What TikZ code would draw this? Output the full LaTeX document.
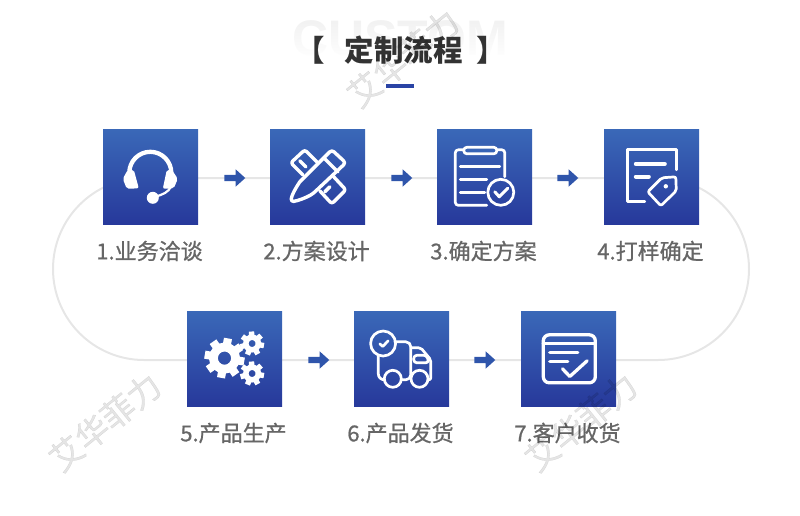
\documentclass[tikz,border=0pt]{standalone}
\usepackage{fontspec}
\setmainfont{Noto Sans CJK SC}
\newfontfamily\ghostfont{Liberation Sans}
\newfontfamily\midfont[FakeBold=0.8]{Noto Sans CJK SC}
\usetikzlibrary{shapes.arrows,fadings}
\definecolor{boxtop}{HTML}{3A68B8}
\definecolor{boxbottom}{HTML}{27399B}
\definecolor{barblue}{HTML}{2A44A5}
\definecolor{arrowblue}{HTML}{2F55AB}
\definecolor{trackgray}{HTML}{E6E6E6}
\definecolor{labelgray}{HTML}{666666}
\definecolor{titlegray}{HTML}{333333}
\tikzset{
  stepbox/.style={minimum size=95pt,inner sep=0pt,top color=boxtop,bottom color=boxbottom},
  steplabel/.style={text=labelgray,font=\midfont\fontsize{22}{22}\selectfont,inner sep=0pt},
  trackline/.style={draw=trackgray,line width=2pt},
  steparrow/.style={single arrow,fill=arrowblue,minimum width=17pt,minimum height=21pt,inner sep=3pt,
    single arrow head extend=5.5pt,single arrow tip angle=84},
  icon/.style={draw=white,line width=3pt,line cap=round,line join=round},
  stamp/.style={text=black,opacity=0.1,rotate=39,font=\midfont\fontsize{33}{33}\selectfont,inner sep=0pt}
}
\newcommand{\gearicon}[6]{% x, y, body radius, tooth radius, hole radius, teeth
  \draw[white,line width={#3pt-#5pt}] (#1,#2) circle ({(#3+#5)/2});
  \foreach \t in {1,...,#6} {
    \draw[white,line width={1.35*#3pt*3.1/#6}] ({#1+(#3-1)*cos(\t*360/#6+10)},{#2+(#3-1)*sin(\t*360/#6+10)}) -- ({#1+#4*cos(\t*360/#6+10)},{#2+#4*sin(\t*360/#6+10)});
  }
}
\begin{document}
\begin{tikzpicture}[x=1pt,y=-1pt]
\useasboundingbox (0,0) rectangle (800,515);

% title
\node[text=black!6,font=\ghostfont\bfseries\fontsize{50}{50}\selectfont,inner sep=0pt] (ghost) at (400,38) {CUSTOM};
\fill[white,path fading=north] (285,14) rectangle (515,60);
\node[text=titlegray,font=\bfseries\fontsize{29.5}{29.5}\selectfont,inner sep=0pt] (title) at (401,50) {【\hspace{20pt}定制流程\hspace{14pt}】};
\fill[barblue] (386,84) rectangle (414,88);

% track
\coordinate (tl) at (144,178);
\coordinate (tr) at (658,178);
\coordinate (bl) at (144,360);
\path[trackline] (tl) -- (tr) arc[start angle=-90,end angle=90,radius=91] -- (bl) arc[start angle=90,end angle=270,radius=91];

% steps
\node[stepbox] (1) at (150.5,176.5) {};
\node[stepbox] (2) at (317.5,176.5) {};
\node[stepbox] (3) at (484.5,176.5) {};
\node[stepbox] (4) at (651.5,176.5) {};
\node[stepbox] (5) at (234.5,358.5) {};
\node[stepbox] (6) at (401.5,358.5) {};
\node[stepbox] (7) at (568.5,358.5) {};

\node[steplabel] (l1) at (149.5,251) {1.业务洽谈};
\node[steplabel] (l2) at (316.5,251) {2.方案设计};
\node[steplabel] (l3) at (483.5,251) {3.确定方案};
\node[steplabel] (l4) at (650.5,251) {4.打样确定};
\node[steplabel] (l5) at (233.5,433) {5.产品生产};
\node[steplabel] (l6) at (400.5,433) {6.产品发货};
\node[steplabel] (l7) at (567.5,433) {7.客户收货};

\node[steparrow] (a1) at (233,178) {};
\node[steparrow] (a2) at (400,178) {};
\node[steparrow] (a3) at (566,178) {};
\node[steparrow] (a5) at (317,360) {};
\node[steparrow] (a6) at (483,360) {};

% headset
\begin{scope}[shift={(1.north west)}]
\draw[icon,line width=4.3pt] (26.5,44) arc[start angle=180,end angle=360,radius=21];
\fill[white,rounded corners=2pt] (25,41) -- (20,50) -- (24,60) -- (36,59.5) -- (31,41) -- cycle;
\fill[white,rounded corners=2pt] (64,41) -- (69,41) -- (75,50) -- (71,59.5) -- (60,60) -- cycle;
\draw[icon,line width=2.2pt] (68,58) .. controls (66,63) and (60,66) .. (52,68);
\fill[white] (50,69) circle (6);
\end{scope}

% pencil and ruler
\begin{scope}[shift={(2.north west)},icon/.append style={line width=3.4pt}]
\draw[icon,rounded corners=2.5pt] (47,33) -- (35,21) -- (21,34) -- (33,46);
\draw[icon,rounded corners=2.5pt] (63,47) -- (76,61) -- (62,75) -- (50,62);
\draw[icon] (30,32) -- (36,38);
\draw[icon] (55,63) -- (60,58);
\draw[icon,rounded corners=3pt] (30,53) -- (62,21) -- (76,34) -- (43,65) .. controls (36,69) and (28,72) .. (21,73) .. controls (22,66) and (26,59) .. (30,53);
\draw[icon] (55,30) -- (68,43);
\end{scope}

% clipboard
\begin{scope}[shift={(3.north west)}]
\draw[icon,line width=2.7pt,rounded corners=3pt] (68,48) -- (68,21) -- (18.5,21) -- (18.5,76.5) -- (50,76.5);
\draw[icon,line width=2.7pt,fill=boxtop!92!boxbottom,rounded corners=3pt] (27,18.5) rectangle (60,25);
\draw[icon,line width=2.7pt] (23.5,38) -- (63,38);
\draw[icon,line width=2.7pt] (23.5,50.5) -- (50,50.5);
\draw[icon,line width=2.7pt] (23.5,63.5) -- (48,63.5);
\draw[icon,line width=2.7pt] (64,63.5) circle (13);
\draw[icon] (58,63) -- (62.5,68) -- (71,59.5);
\end{scope}

% sheet and tag
\begin{scope}[shift={(4.north west)}]
\draw[icon,line width=2.7pt] (73,41) -- (73,21) -- (24,21) -- (24,73) -- (41,73);
\draw[icon,line width=4pt] (32,35) -- (61,35);
\draw[icon,line width=4pt] (32,47.7) -- (45,47.7);
\draw[icon,line width=2.7pt,rounded corners=2pt] (44,63) -- (58,49) -- (72,48) -- (72.5,62) -- (57,77) -- cycle;
\fill[white] (62,57.5) circle (2.2);
\end{scope}

% gears
\begin{scope}[shift={(5.north west)}]
\gearicon{37.7}{47.3}{15.5}{20}{6.7}{8}
\gearicon{65.3}{32.7}{9}{12}{3.5}{7}
\gearicon{65.3}{62.7}{9}{12}{3.5}{7}
\end{scope}

% truck
\begin{scope}[shift={(6.north west)},icon/.append style={line width=2.7pt}]
\draw[icon,rounded corners=5pt] (41,31) -- (57,31) -- (57,69) -- (47.5,69);
\draw[icon,rounded corners=6pt] (24.5,45) -- (24.5,69) -- (30.5,69);
\draw[icon,rounded corners=2pt] (57,37) -- (67,37) -- (77,49) -- (77,69) -- (74.5,69);
\draw[icon,rounded corners=3pt] (60,44.5) -- (73,44.5) -- (75,52) -- (60,52) -- cycle;
\draw[icon] (39,68) circle (8.5);
\draw[icon] (65.7,68) circle (8.5);
\draw[icon] (29.3,32.7) circle (12.5);
\draw[icon] (26,33) -- (29,35.7) -- (34.3,30);
\end{scope}

% parcel
\begin{scope}[shift={(7.north west)},icon/.append style={line width=3.3pt}]
\draw[icon,rounded corners=6pt] (22.5,24) rectangle (74.5,72);
\draw[icon] (22.5,33) -- (74.5,33);
\draw[icon] (29,42) -- (57,42);
\draw[icon] (29,51) -- (47,51);
\draw[icon] (41.7,58) -- (49,65.7) -- (66.3,50);
\end{scope}

% watermarks
\node[stamp] (m1) at (403,58) {艾华菲力};
\node[stamp] (m2) at (105,422) {艾华菲力};
\node[stamp] (m3) at (581,422) {艾华菲力};
\end{tikzpicture}
\end{document}
